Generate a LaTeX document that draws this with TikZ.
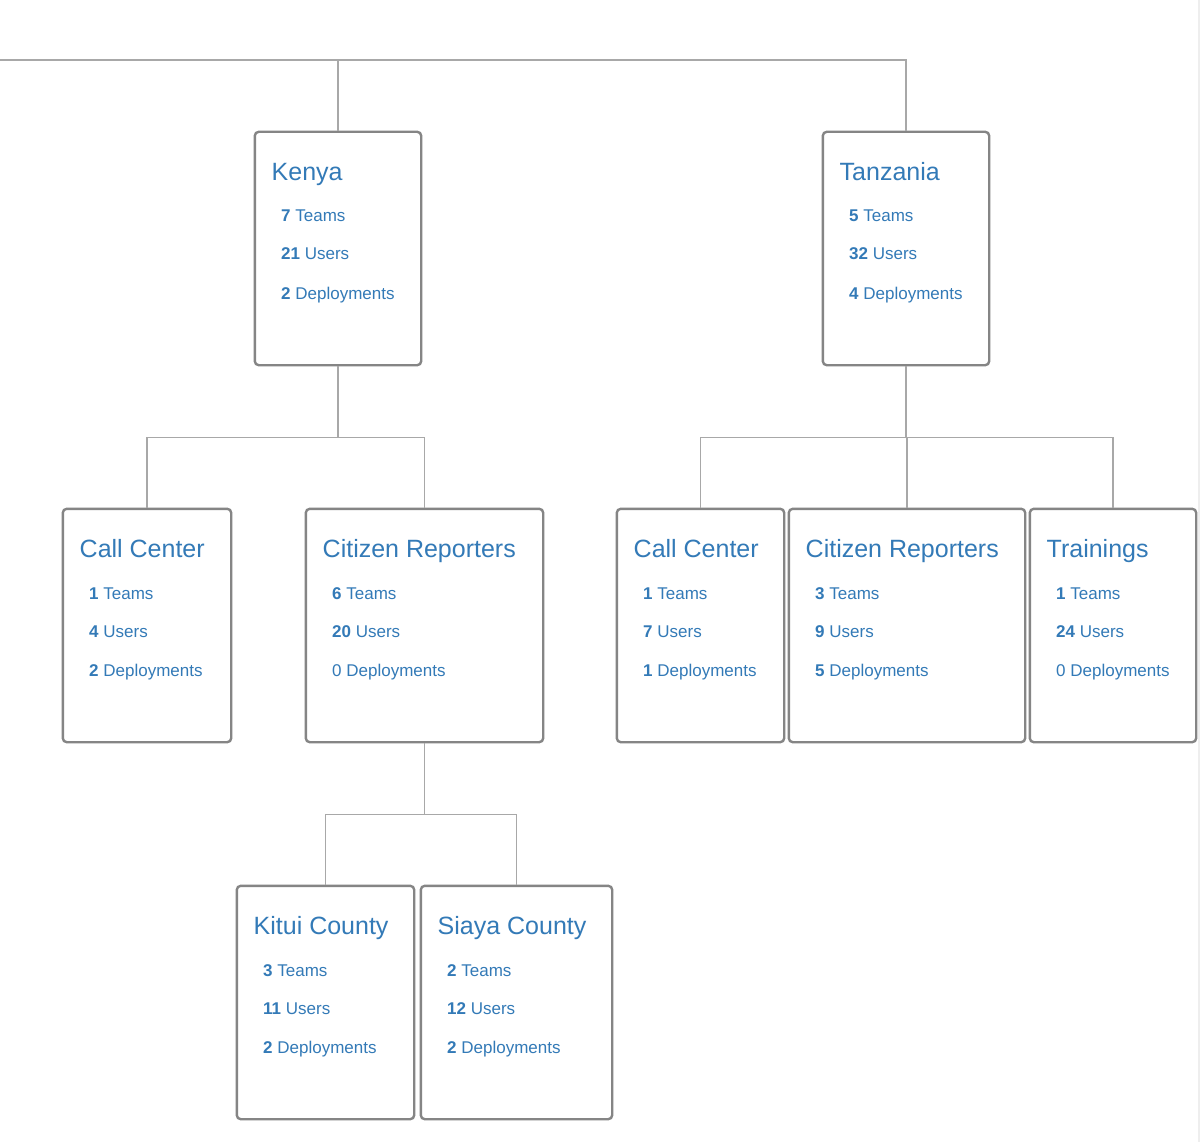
\documentclass[tikz,border=0pt]{standalone}
\usepackage{fontspec}
\setmainfont{Liberation Sans}
\definecolor{txt}{HTML}{337AB7}
\definecolor{bord}{HTML}{858585}
\definecolor{conn}{HTML}{A8A8A8}
\definecolor{edge}{HTML}{EEEEEE}
\newcommand{\orgbox}[8]{%
  \node[box, minimum width={#3-#2-1.6}, minimum height=233.4] (#1) at ({(#2+#3)/2},{#4+117.5}) {};
  \node[ttl] (#1-title) at ({#2+17.5},{#4+49.5}) {#5};
  \node[stat] (#1-teams) at ({#2+27},{#4+91}) {#6};
  \node[stat] (#1-users) at ({#2+27},{#4+129}) {#7};
  \node[stat] (#1-deps) at ({#2+27},{#4+168}) {#8};}
\begin{document}
\begin{tikzpicture}[x=1pt,y=-1pt,
  box/.style={draw=bord, line width=2.4pt, rounded corners=4pt, inner sep=0pt, fill=white},
  ttl/.style={anchor=base west, inner sep=0pt, text=txt, font=\fontsize{25}{30}\selectfont},
  stat/.style={anchor=base west, inner sep=0pt, text=txt, font=\fontsize{17}{20}\selectfont},
  link/.style={draw=conn, line width=1.1pt}]
\useasboundingbox[fill=white] (0,0) rectangle (1200,1142);
\draw[edge, line width=1.5pt] (1199.2,0) -- (1199.2,1142);

\orgbox{kenya}{254}{422}{131}{Kenya}{\textbf{7} Teams}{\textbf{21} Users}{\textbf{2} Deployments}
\orgbox{tanzania}{822}{990}{131}{Tanzania}{\textbf{5} Teams}{\textbf{32} Users}{\textbf{4} Deployments}
\orgbox{kcc}{62}{232}{508}{Call Center}{\textbf{1} Teams}{\textbf{4} Users}{\textbf{2} Deployments}
\orgbox{kcr}{305}{544}{508}{Citizen Reporters}{\textbf{6} Teams}{\textbf{20} Users}{0 Deployments}
\orgbox{tcc}{616}{785}{508}{Call Center}{\textbf{1} Teams}{\textbf{7} Users}{\textbf{1} Deployments}
\orgbox{tcr}{788}{1026}{508}{Citizen Reporters}{\textbf{3} Teams}{\textbf{9} Users}{\textbf{5} Deployments}
\orgbox{ttr}{1029}{1197}{508}{Trainings}{\textbf{1} Teams}{\textbf{24} Users}{0 Deployments}
\orgbox{kitui}{236}{415}{885}{Kitui County}{\textbf{3} Teams}{\textbf{11} Users}{\textbf{2} Deployments}
\orgbox{siaya}{420}{613}{885}{Siaya County}{\textbf{2} Teams}{\textbf{12} Users}{\textbf{2} Deployments}

\coordinate (rootl) at (0,60);
\draw[link] (rootl) -| (kenya.north);
\draw[link] (rootl) -| (tanzania.north);

\draw[link] (kenya.south) -- ++(0,71) coordinate (kj);
\draw[link] (kcc.north) |- (kj) -| (kcr.north);

\draw[link] (tanzania.south) -- ++(0,71) coordinate (tj);
\draw[link] (tcc.north) |- (tj) -| (ttr.north);
\draw[link] (tcr.north) -- (tcr.north |- tj);

\draw[link] (kcr.south) -- ++(0,71) coordinate (cj);
\draw[link] (kitui.north) |- (cj) -| (siaya.north);
\end{tikzpicture}
\end{document}
